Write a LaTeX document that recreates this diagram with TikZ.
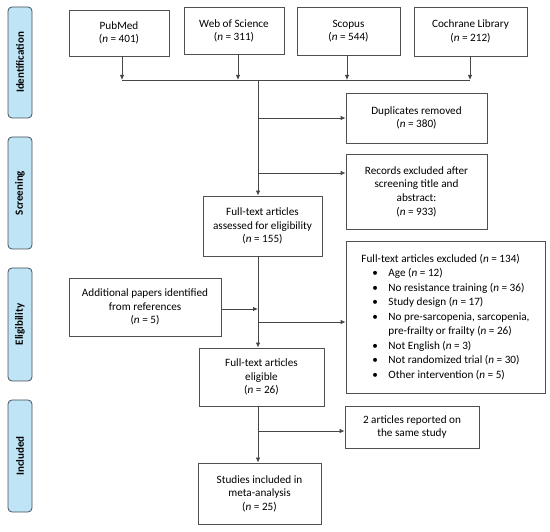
\documentclass[tikz,border=0pt]{standalone}
\usepackage{fontspec}
\setmainfont{Carlito}
\usetikzlibrary{arrows.meta}
\definecolor{boxc}{RGB}{80,80,80}
\definecolor{linec}{RGB}{70,70,70}
\definecolor{sidefill}{RGB}{190,228,246}
\definecolor{sidedraw}{RGB}{70,80,90}
\begin{document}
\begin{tikzpicture}[x=1pt,y=-1pt,
  box/.style={draw=boxc, line width=0.8pt, align=center, inner sep=0pt,
    font=\fontsize{11.2}{13.6}\selectfont},
  side/.style={draw=sidedraw, fill=sidefill, line width=0.8pt, rounded corners=4pt,
    minimum width=24pt, inner sep=0pt, font=\fontsize{11}{12}\selectfont\bfseries},
  conn/.style={draw=linec, line width=0.8pt},
  arr/.style={conn, -{Latex[length=5pt,width=4.5pt]}}]
\useasboundingbox (0,0) rectangle (550,532);
% side bars
\node[side, minimum height=111pt] (s1) at (20,62.5) {\rotatebox{90}{Identification}};
\node[side, minimum height=112pt] (s2) at (20,193) {\rotatebox{90}{Screening}};
\node[side, minimum height=113pt] (s3) at (20,324.5) {\rotatebox{90}{Eligibility}};
\node[side, minimum height=112pt] (s4) at (20,456) {\rotatebox{90}{Included}};
% top boxes
\node[box, minimum width=100pt, minimum height=46pt] (pub) at (119,33) {PubMed\\(\textit{n} = 401)};
\node[box, minimum width=100pt, minimum height=47pt] (wos) at (234,31) {Web of Science\\(\textit{n} = 311)};
\node[box, minimum width=103pt, minimum height=48pt] (sco) at (348.5,31) {Scopus\\(\textit{n} = 544)};
\node[box, minimum width=113pt, minimum height=49pt] (coc) at (470.5,31.5) {Cochrane Library\\(\textit{n} = 212)};
% right boxes
\node[box, minimum width=141pt, minimum height=50pt] (dup) at (416.5,118) {Duplicates removed\\(\textit{n} = 380)};
\node[box, minimum width=141pt, minimum height=75pt] (rec) at (416.5,191.5) {Records excluded after\\screening title and\\abstract:\\(\textit{n} = 933)};
\node[box, minimum width=119pt, minimum height=60pt] (fta) at (262.5,226) {Full-text articles\\assessed for eligibility\\(\textit{n} = 155)};
\node[box, minimum width=199pt, minimum height=152pt, align=left,
  font=\fontsize{11.2}{14.5}\selectfont] (fte) at (445.5,317) {Full-text articles excluded (\textit{n} = 134)\\
\makebox[27pt][l]{\hspace{11pt}\textbullet}Age (\textit{n} = 12)\\
\makebox[27pt][l]{\hspace{11pt}\textbullet}No resistance training (\textit{n} = 36)\\
\makebox[27pt][l]{\hspace{11pt}\textbullet}Study design (\textit{n} = 17)\\
\makebox[27pt][l]{\hspace{11pt}\textbullet}No pre-sarcopenia, sarcopenia,\\
\hspace*{27pt}pre-frailty or frailty (\textit{n} = 26)\\
\makebox[27pt][l]{\hspace{11pt}\textbullet}Not English (\textit{n} = 3)\\
\makebox[27pt][l]{\hspace{11pt}\textbullet}Not randomized trial (\textit{n} = 30)\\
\makebox[27pt][l]{\hspace{11pt}\textbullet}Other intervention (\textit{n} = 5)};
\node[box, minimum width=152pt, minimum height=58pt] (add) at (145,307) {Additional papers identified\\from references\\(\textit{n} = 5)};
\node[box, minimum width=125pt, minimum height=58pt] (elg) at (261.5,377) {Full-text articles\\eligible\\(\textit{n} = 26)};
\node[box, minimum width=134pt, minimum height=42pt] (two) at (412,427) {2 articles reported on\\the same study};
\node[box, minimum width=123pt, minimum height=61pt] (stu) at (259.5,493.5) {Studies included in\\meta-analysis\\(\textit{n} = 25)};
% connectors
\coordinate (hl) at (258,80);
\coordinate (p1) at (122,80);
\coordinate (p2) at (238,80);
\coordinate (p3) at (347,80);
\coordinate (p4) at (470,80);
\draw[arr] (pub.south -| p1) -- (p1);
\draw[arr] (wos.south -| p2) -- (p2);
\draw[arr] (sco.south -| p3) -- (p3);
\draw[arr] (coc.south -| p4) -- (p4);
\draw[conn] (p1) -- (p4);
\draw[arr] (hl) -- (hl |- fta.north);
\coordinate (j1) at (258,118);
\coordinate (j2) at (258,173);
\draw[arr] (j1) -- (j1 -| dup.west);
\draw[arr] (j2) -- (j2 -| rec.west);
\coordinate (fb) at (258,256);
\draw[arr] (fb) -- (fb |- elg.north);
\coordinate (j3) at (258,322);
\coordinate (j4) at (258,309);
\draw[arr] (j3) -- (j3 -| fte.west);
\draw[arr] (add.east |- j4) -- (j4);
\coordinate (eb) at (258,406);
\draw[arr] (eb) -- (eb |- stu.north);
\coordinate (j5) at (258,431);
\draw[arr] (j5) -- (j5 -| two.west);
\end{tikzpicture}
\end{document}
